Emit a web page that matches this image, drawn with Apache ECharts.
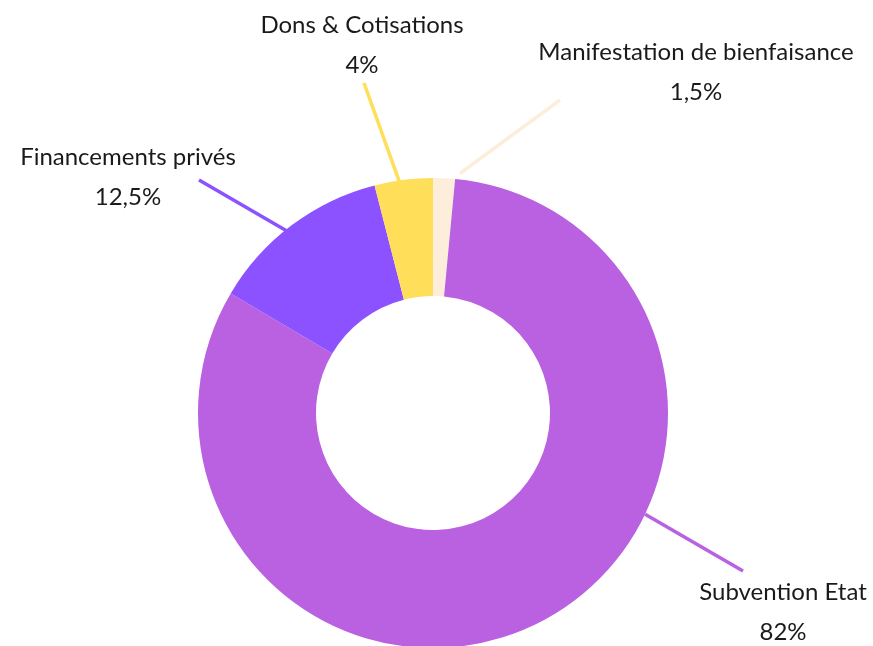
<!DOCTYPE html>
<html>
<head>
<meta charset="utf-8">
<script src="https://cdn.jsdelivr.net/npm/echarts@6/dist/echarts.min.js"></script>
<style>
  html, body { margin: 0; padding: 0; background: #fff; }
  #chart { width: 873px; height: 646px; }
</style>
</head>
<body>
<div id="chart"></div>
<script>
// data, clockwise from the top
const categories = ['Manifestation de bienfaisance', 'Subvention Etat', 'Financements privés', 'Dons & Cotisations']
const values = [1.5, 82, 12.5, 4]
const valueLabels = ['1,5%', '82%', '12,5%', '4%']

const colors = ['#FDEEDC', '#B961E0', '#8C52FF', '#FFDE59']

// layout of the labels and their guide lines
const center = [433, 413]
const outerR = 235
const labelPos = [[696, 72], [783, 612], [128, 177], [362, 45]]
// where each guide line leaves the ring: [angle clockwise from top (deg), radius]
const lineStart = [[6.4, 241], [115.5, 235], [-38.7, 233], [-8.3, 234]]
// guide line end, offset from the label centre
const lineEnd = [[-136, 28], [-40, -41], [71, 3], [2, 38]]

const chart = echarts.init(document.getElementById('chart'))

function ringPoint(deg, r) {
  const a = deg * Math.PI / 180
  return [center[0] + r * Math.sin(a), center[1] - r * Math.cos(a)]
}

chart.setOption({
  animation: false,
  series: [{
    type: 'pie',
    center,
    radius: [117, outerR],
    startAngle: 90,
    clockwise: true,
    data: categories.map((name, i) => ({
      name,
      value: values[i],
      itemStyle: { color: colors[i] },
      labelLine: { lineStyle: { color: colors[i] } }
    })),
    label: {
      show: true,
      position: 'outside',
      color: '#1a1a1a',
      fontFamily: 'Lato',
      fontSize: 24,
      lineHeight: 40,
      align: 'center',
      formatter: p => p.name + '\n' + valueLabels[p.dataIndex]
    },
    labelLine: {
      show: true,
      length: 30,
      length2: 0,
      smooth: false,
      lineStyle: { width: 3.5 }
    },
    labelLayout: params => {
      const i = params.dataIndex
      const [x, y] = labelPos[i]
      return {
        x,
        y,
        align: 'center',
        verticalAlign: 'middle',
        labelLinePoints: [
          ringPoint(lineStart[i][0], lineStart[i][1]),
          [x + lineEnd[i][0], y + lineEnd[i][1]]
        ]
      }
    },
    emphasis: { disabled: true }
  }]
})

window.addEventListener('resize', () => chart.resize())
</script>
</body>
</html>
